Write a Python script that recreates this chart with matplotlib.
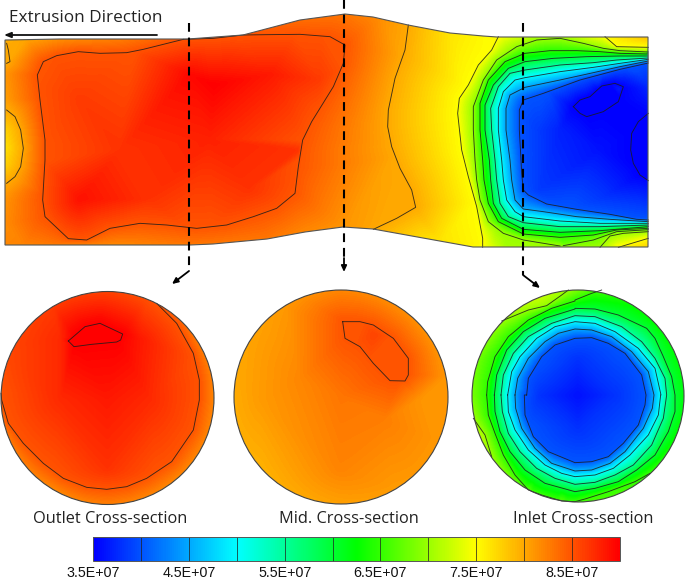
import numpy as np
import matplotlib
matplotlib.use('Agg')
import matplotlib.pyplot as plt
from matplotlib.colors import LinearSegmentedColormap
from matplotlib.patches import Polygon, Circle
from matplotlib.tri import Triangulation, LinearTriInterpolator

# escala de cor (valores em 1E+07)
vmin, vmax = 3.5, 9.0
cbar_ticks = [3.5, 4.5, 5.5, 6.5, 7.5, 8.5]
cbar_labels = ['3.5E+07', '4.5E+07', '5.5E+07', '6.5E+07', '7.5E+07', '8.5E+07']
cbar_edges = [4.0, 4.5, 5.0, 5.5, 6.0, 6.5, 7.0, 7.5, 8.0, 8.5]

# contorno da secao longitudinal (pixels) e valores na borda
top_x = [5, 60, 120, 188, 243, 300, 345, 373, 408, 450, 483, 497, 537, 560, 605, 648]
top_y = [40, 39, 39, 39, 35, 20, 14, 17, 25, 33, 36, 37, 37, 37, 37, 37]
top_v = [7.95, 8.15, 8.25, 8.5, 8.5, 8.35, 8.3, 8.2, 8.0, 7.65, 7.52, 7.5, 7.1, 7.05, 7.5, 7.9]
bot_x = [5, 60, 120, 190, 213, 267, 305, 343, 373, 423, 473, 483, 506, 560, 600, 618, 648]
bot_y = [245, 245, 245, 245, 244, 239, 232, 227, 229, 238, 247, 247, 247, 247, 247, 247, 247]
bot_v = [8.2, 8.3, 8.2, 8.3, 8.3, 8.3, 8.2, 8.12, 8.02, 7.7, 7.55, 7.5, 7.05, 7.0, 7.0, 7.5, 7.75]
left_y = [40, 63, 75, 100, 110, 130, 148, 165, 183, 200, 245]
left_v = [7.95, 8.0, 8.1, 8.05, 8.0, 7.75, 7.65, 7.75, 8.0, 8.12, 8.2]
right_y = [65, 90, 112, 147, 179, 200, 218]
right_v = [3.95, 3.7, 3.52, 3.4, 3.52, 3.75, 3.97]

# pontos internos (x, y, valor)
long_extras = [(215, 85, 9.0), (190, 75, 8.95), (270, 75, 8.85), (80, 200, 8.9), (120, 150, 8.7),
               (300, 150, 8.7), (80, 100, 8.65), (150, 200, 8.7), (250, 190, 8.7), (210, 140, 8.8),
               (320, 80, 8.65), (560, 130, 3.7), (600, 150, 3.6), (620, 90, 3.7), (600, 100, 3.4),
               (590, 110, 3.42), (645, 146, 3.4), (540, 130, 3.85), (540, 190, 3.85), (600, 200, 3.85),
               (640, 75, 3.9), (640, 205, 3.85), (600, 85, 3.7)]

# isolinhas, lidas em recortes 3x: (desloc_x, desloc_y, pontos)
z1 = (0, 0)
z2 = (340, 0)
z6 = (460, 30)
z7 = (460, 160)
z3 = (0, 260)
z4 = (340, 260)
z8 = (465, 285)
z9 = (575, 285)
z10 = (465, 395)
z11 = (575, 395)

loop_85 = [(550, 118), (430, 148), (380, 158), (300, 160), (235, 155), (170, 167), (130, 185), (112, 225),
           (120, 300), (135, 420), (135, 480), (128, 600), (135, 650), (205, 716), (260, 720), (330, 685),
           (420, 670), (500, 675), (590, 685), (680, 675), (760, 650), (830, 625), (885, 580), (895, 500),
           (908, 420), (935, 365), (1000, 260), (1030, 190), (1035, 135), (990, 110), (900, 103), (800, 104),
           (730, 105), (640, 115), (550, 118)]
blob_80 = [(20, 330), (45, 350), (62, 390), (70, 445), (62, 500), (45, 530), (20, 550)]
corner_80 = [(20, 130), (25, 150), (30, 185), (20, 190)]
line_80 = [(205, 75), (195, 150), (165, 235), (145, 330), (143, 380), (155, 440), (180, 505), (215, 570),
           (227, 622), (170, 655), (100, 688)]
line_75 = [(475, 110), (455, 150), (415, 195), (385, 255), (358, 295), (353, 340), (365, 450), (385, 530),
           (410, 620), (428, 715), (428, 742)]
corner_75_top = [(435, 20), (470, 50), (565, 52)]
corner_75_bot = [(475, 262), (565, 235)]
piece_70 = [(420, 262), (450, 228), (490, 220), (565, 215)]
arc_bot = [(310, 257), (400, 240), (470, 215), (565, 209)]
loop_35a = [(700, 320), (720, 300), (750, 290), (785, 258), (825, 250), (850, 260), (835, 305), (790, 335),
            (740, 350), (720, 340), (700, 320)]
loop_35b = [(925, 340), (895, 365), (875, 400), (872, 450), (880, 490), (900, 525), (925, 542)]
line_40 = [(925, 190)]

top_70 = [(40, 300), (40, 230), (70, 150), (110, 90), (170, 50), (230, 30), (300, 25), (370, 40), (430, 55), (480, 62), (565, 66)]
bot_70 = [(45, 0), (50, 60), (60, 120), (85, 185), (130, 220), (190, 240), (300, 258)]
top_65 = [(60, 300), (60, 220), (85, 150), (135, 95), (195, 70), (270, 62), (350, 62), (420, 65), (480, 70), (565, 72)]
bot_65 = [(68, 0), (72, 60), (85, 130), (115, 185), (190, 222), (300, 232), (400, 225), (470, 210), (565, 205)]
top_60 = [(75, 300), (75, 225), (100, 165), (145, 115), (195, 95), (280, 85), (380, 80), (480, 78), (565, 78)]
bot_60 = [(88, 0), (92, 60), (100, 130), (125, 175), (190, 208), (300, 217), (420, 212), (565, 200)]
top_55 = [(95, 300), (92, 235), (115, 170), (150, 130), (195, 120), (300, 105), (400, 98), (470, 90), (565, 84)]
bot_55 = [(105, 0), (110, 60), (120, 130), (145, 170), (190, 188), (300, 200), (420, 200), (565, 195)]
top_50 = [(115, 300), (115, 235), (130, 185), (165, 150), (195, 143), (300, 125), (400, 112), (480, 100), (565, 88)]
bot_50 = [(125, 0), (130, 60), (140, 120), (165, 155), (190, 170), (300, 183), (420, 190), (565, 190)]
top_45 = [(138, 300), (138, 235), (150, 195), (195, 172), (300, 150), (400, 128), (480, 110), (565, 93)]
bot_45 = [(150, 0), (155, 60), (165, 120), (190, 147), (250, 155), (350, 170), (450, 178), (565, 185)]
top_40 = [(178, 300), (178, 240), (190, 210), (250, 190), (360, 150), (480, 118), (565, 99)]
bot_40 = [(183, 0), (185, 40), (190, 90), (205, 105), (260, 132), (350, 148), (450, 163), (530, 178), (565, 180)]

# corte de saida
out_85 = [(470, 130), (530, 190), (580, 280), (598, 360), (598, 420), (580, 510), (515, 605), (440, 655), (380, 680),
          (320, 688), (260, 682), (190, 655), (130, 610), (70, 550), (25, 490), (5, 420), (3, 400)]
out_90 = [(205, 243), (255, 200), (300, 190), (368, 222), (362, 240), (350, 246), (275, 253), (222, 260), (205, 243)]
out_ang = [0, 30, 62, 90, 120, 150, 177, 200, 240, 270, 300, 330, 360]
out_rim = [8.2, 8.25, 8.5, 8.6, 8.65, 8.6, 8.5, 8.3, 8.2, 8.25, 8.2, 8.2, 8.2]
out_extras = [(107, 400, 8.85), (95, 335, 9.05), (60, 400, 8.75), (150, 400, 8.75), (107, 470, 8.7), (140, 340, 8.85), (60, 340, 8.75)]

# corte do meio
mid_85 = [(8, 185), (60, 185), (100, 195), (160, 235), (205, 295), (205, 345), (195, 363), (150, 362), (100, 310), (60, 260), (15, 235), (8, 185)]
mid_ang = [0, 45, 90, 135, 180, 225, 270, 315, 360]
mid_rim = [8.1, 8.15, 8.2, 8.05, 7.98, 7.95, 8.05, 8.1, 8.1]
mid_extras = [(341, 397, 8.3), (300, 380, 8.2), (375, 335, 8.6), (260, 400, 8.08), (420, 400, 8.12), (340, 470, 8.22), (385, 420, 8.25)]

# corte de entrada
in_ang = [0, 30, 60, 77, 95, 112, 135, 160, 180, 192, 203, 215, 240, 270, 290, 313, 340, 360]
in_rim = [6.2, 6.25, 6.3, 6.5, 7.0, 7.25, 7.0, 6.8, 6.85, 7.0, 7.2, 7.0, 6.7, 6.6, 6.6, 6.5, 6.25, 6.2]
in_extras = [(578, 396, 3.6), (540, 396, 3.8), (615, 396, 3.8), (578, 360, 3.8), (578, 430, 3.8)]
in_lens_a = [(110, 108), (190, 75), (245, 62), (290, 30), (310, 15)]
in_lens_b = [(25, 70), (60, 120), (80, 185)]
in65_a = [(65, 330), (68, 290), (90, 215), (130, 155), (190, 105), (260, 70), (330, 48)]
in65_b = [(0, 45), (50, 25), (80, 15)]
in65_c = [(65, 0), (70, 60), (90, 115), (115, 180), (150, 240), (190, 285), (230, 300), (290, 318), (330, 320)]
in65_d = [(30, 312), (100, 290), (180, 260), (225, 235)]
in_rings = {
    6.0: ([(88, 330), (95, 270), (125, 195), (175, 140), (240, 100), (330, 72)],
          [(0, 70), (60, 72), (130, 90), (215, 130), (240, 160), (265, 215), (290, 275), (300, 330)],
          [(0, 290), (60, 280), (130, 260), (185, 225), (240, 180), (280, 110), (300, 50), (300, 0)],
          [(88, 0), (90, 50), (105, 110), (135, 170), (180, 225), (240, 265), (330, 290)]),
    5.5: ([(108, 330), (115, 270), (145, 205), (190, 155), (260, 115), (330, 92)],
          [(0, 92), (60, 95), (140, 125), (200, 170), (240, 220), (270, 280), (275, 330)],
          [(0, 268), (60, 262), (120, 240), (175, 210), (230, 150), (265, 70), (275, 0)],
          [(108, 0), (112, 50), (130, 115), (165, 170), (215, 220), (270, 250), (330, 268)]),
    5.0: ([(128, 330), (140, 260), (165, 215), (215, 160), (270, 125), (330, 110)],
          [(0, 110), (60, 115), (120, 140), (190, 190), (240, 250), (258, 330)],
          [(0, 245), (60, 240), (115, 220), (165, 180), (220, 120), (250, 60), (257, 0)],
          [(128, 0), (130, 50), (150, 105), (190, 165), (240, 210), (290, 235), (330, 245)]),
    4.5: ([(150, 330), (158, 280), (190, 220), (240, 170), (280, 145), (330, 132)],
          [(0, 132), (50, 135), (110, 155), (170, 200), (220, 260), (237, 330)],
          [(0, 228), (50, 225), (105, 205), (150, 170), (205, 100), (232, 40), (237, 0)],
          [(150, 0), (152, 40), (170, 100), (210, 160), (260, 205), (330, 228)]),
    4.0: ([(185, 330), (190, 280), (230, 215), (270, 180), (330, 160)],
          [(0, 160), (50, 158), (100, 175), (150, 205), (200, 270), (213, 330)],
          [(0, 203), (50, 200), (100, 185), (145, 145), (190, 90), (210, 30), (213, 0)],
          [(178, 0), (180, 60), (205, 125), (250, 170), (330, 203)]),
}

# geometria dos circulos
out_c = (107.5, 398, 106.5)
mid_c = (341, 397, 107)
in_c = (578, 396, 106)

cmap = LinearSegmentedColormap.from_list('tensao', [
    (0.0, (0, 0, 1)),
    ((5.0 - vmin) / (vmax - vmin), (0, 1, 1)),
    ((6.25 - vmin) / (vmax - vmin), (0, 1, 0)),
    ((7.5 - vmin) / (vmax - vmin), (1, 1, 0)),
    (1.0, (1, 0, 0))])


def zp(off, pts):
    return np.array(pts, dtype=float) / 3 + off


def rev(pts):
    return list(reversed(pts))


def adensar(x, y, v, passo=2.5):
    x, y = np.asarray(x, float), np.asarray(y, float)
    v = np.broadcast_to(np.asarray(v, float), x.shape)
    s = np.r_[0, np.cumsum(np.hypot(np.diff(x), np.diff(y)))]
    t = np.linspace(0, s[-1], int(s[-1] / passo) + 2)
    return np.interp(t, s, x), np.interp(t, s, y), np.interp(t, s, v)


def desenhar_campo(ax, linhas, bordas, extras, box, clip):
    px, py, pv = [], [], []
    for nivel, pts in linhas:
        a, b, c = adensar(pts[:, 0], pts[:, 1], nivel)
        px.append(a)
        py.append(b)
        pv.append(c)
    for bx, by, bv in bordas:
        a, b, c = adensar(bx, by, bv)
        px.append(a)
        py.append(b)
        pv.append(c)
    ex = np.array(extras, dtype=float)
    px.append(ex[:, 0])
    py.append(ex[:, 1])
    pv.append(ex[:, 2])
    px, py, pv = np.concatenate(px), np.concatenate(py), np.concatenate(pv)

    x0, x1, y0, y1 = box
    media = pv.mean()
    px = np.r_[px, x0 - 5, x1 + 5, x0 - 5, x1 + 5]
    py = np.r_[py, y0 - 5, y0 - 5, y1 + 5, y1 + 5]
    pv = np.r_[pv, media, media, media, media]

    _, idx = np.unique(np.c_[np.round(px, 1), np.round(py, 1)], axis=0, return_index=True)
    tri = Triangulation(px[idx], py[idx])
    interp = LinearTriInterpolator(tri, pv[idx])
    gx, gy = np.meshgrid(np.arange(x0, x1 + 1.0), np.arange(y0, y1 + 1.0))
    z = interp(gx, gy).filled(media)

    # suaviza as facetas dos triangulos
    k = np.array([1, 3, 5, 3, 1], dtype=float)
    k /= k.sum()
    z = np.pad(z, 2, mode='edge')
    z = np.apply_along_axis(lambda m: np.convolve(m, k, mode='same'), 0, z)
    z = np.apply_along_axis(lambda m: np.convolve(m, k, mode='same'), 1, z)[2:-2, 2:-2]

    im = ax.imshow(z, extent=(x0 - .5, x1 + .5, y1 + .5, y0 - .5), cmap=cmap, vmin=vmin, vmax=vmax,
                   interpolation='bilinear', aspect='auto', zorder=1)
    im.set_clip_path(clip)


def riscar(ax, linhas):
    for _, pts in linhas:
        ax.plot(pts[:, 0], pts[:, 1], color='#1c1c1c', lw=0.65, alpha=0.85, zorder=2, solid_joinstyle='round')


def borda_circulo(c, ang, val):
    a = np.linspace(0, 360, 145)
    v = np.interp(a, ang, val)
    x = c[0] + c[2] * np.cos(np.radians(a))
    y = c[1] - c[2] * np.sin(np.radians(a))
    return x, y, v


fig = plt.figure(figsize=(6.85, 5.8), dpi=100)
ax = fig.add_axes([0, 0, 1, 1])

# secao longitudinal
linhas_long = [
    (8.5, zp(z1, loop_85)), (8.0, zp(z1, blob_80)), (8.0, zp(z1, corner_80)), (8.0, zp(z2, line_80)),
    (7.5, zp(z2, line_75)), (7.5, zp(z6, corner_75_top)), (7.5, zp(z7, corner_75_bot)),
    (7.0, zp(z7, piece_70)), (6.8, zp(z7, arc_bot)),
    (3.5, zp(z2, loop_35a)), (3.5, zp(z2, loop_35b)),
]
pares = [(7.0, top_70, bot_70), (6.5, top_65, bot_65), (6.0, top_60, bot_60), (5.5, top_55, bot_55),
         (5.0, top_50, bot_50), (4.5, top_45, bot_45), (4.0, top_40, bot_40)]
for nivel, topo, base in pares:
    linhas_long.append((nivel, np.vstack([zp(z6, rev(topo)), zp(z7, base)])))

outline = np.vstack([np.c_[top_x, top_y], np.c_[bot_x, bot_y][::-1]])
clip_long = Polygon(outline, closed=True, transform=ax.transData)
bordas_long = [(top_x, top_y, top_v), (bot_x, bot_y, bot_v),
               ([5] * len(left_y), left_y, left_v), ([648] * len(right_y), right_y, right_v)]
desenhar_campo(ax, linhas_long, bordas_long, long_extras, (3, 650, 10, 250), clip_long)
riscar(ax, linhas_long)
ax.add_patch(Polygon(outline, closed=True, fill=False, ec='#555555', lw=0.8, zorder=3))

# cortes transversais
linhas_out = [(8.5, zp(z3, out_85)), (9.0, zp(z3, out_90))]
linhas_mid = [(8.5, zp(z4, mid_85))]
linhas_in = [(7.0, zp(z8, in_lens_a)), (7.0, zp(z10, in_lens_b)),
             (6.5, np.vstack([zp(z8, in65_a), zp(z9, in65_b)])),
             (6.5, np.vstack([zp(z10, in65_c), zp(z11, in65_d)]))]
for nivel, (a, b, c, d) in in_rings.items():
    anel = np.vstack([zp(z8, a), zp(z9, b), zp(z11, rev(c)), zp(z10, rev(d)), zp(z8, a[:1])])
    linhas_in.append((nivel, anel))

for c, linhas, ang, rim, extras in [(out_c, linhas_out, out_ang, out_rim, out_extras),
                                    (mid_c, linhas_mid, mid_ang, mid_rim, mid_extras),
                                    (in_c, linhas_in, in_ang, in_rim, in_extras)]:
    clip = Circle(c[:2], c[2], transform=ax.transData)
    box = (int(c[0] - c[2]) - 2, int(c[0] + c[2]) + 2, int(c[1] - c[2]) - 2, int(c[1] + c[2]) + 2)
    desenhar_campo(ax, linhas, [borda_circulo(c, ang, rim)], extras, box, clip)
    riscar(ax, linhas)
    ax.add_patch(Circle(c[:2], c[2], fill=False, ec='#444444', lw=0.8, zorder=3))

# linhas de corte tracejadas e setas
for x, y0, y1, alvo in [(189, 23, 271, (172, 284)), (344, 0, 258, (344, 272)), (523, 23, 275, (540, 288))]:
    ax.plot([x, x], [y0, y1], color='black', lw=1.5, ls=(0, (4.2, 2.8)), zorder=5)
    ax.annotate('', xy=alvo, xytext=(x, y1),
                arrowprops=dict(arrowstyle='-|>,head_width=0.16,head_length=0.35', color='black', lw=1.3,
                                shrinkA=0, shrinkB=0), zorder=5)

ax.annotate('', xy=(4, 35), xytext=(157, 35),
            arrowprops=dict(arrowstyle='-|>,head_width=0.16,head_length=0.4', color='#111111', lw=1.3,
                            shrinkA=0, shrinkB=0))
ax.text(9, 18, 'Extrusion Direction', fontsize=12.3, family='Open Sans', color='#222222', va='center', ha='left')

# legendas dos cortes
for x, txt in [(110, 'Outlet Cross-section'), (349, 'Mid. Cross-section'), (583, 'Inlet Cross-section')]:
    ax.text(x, 519, txt, fontsize=11.8, family='Open Sans', color='#222222', ha='center', va='center')

# barra de cor
bar_x0, bar_x1, bar_y0, bar_y1 = 93, 620, 537, 561


def xbar(v):
    return bar_x0 + (v - vmin) / (vmax - vmin) * (bar_x1 - bar_x0)


grad = np.linspace(vmin, vmax, 528).reshape(1, -1)
ax.imshow(grad, extent=(bar_x0, bar_x1, bar_y1, bar_y0), cmap=cmap, vmin=vmin, vmax=vmax, aspect='auto', zorder=1)
for v in cbar_edges:
    ax.plot([xbar(v), xbar(v)], [bar_y0, bar_y1], color='#222222', lw=0.7, alpha=0.75, zorder=2)
ax.add_patch(plt.Rectangle((bar_x0, bar_y0), bar_x1 - bar_x0, bar_y1 - bar_y0, fill=False, ec='#555555', lw=0.7, zorder=3))
for v, lab in zip(cbar_ticks, cbar_labels):
    ax.text(xbar(v), 573, lab, fontsize=10.3, family='Liberation Sans', color='#111111', ha='center', va='center')

ax.set_xlim(0, 685)
ax.set_ylim(580, 0)
ax.axis('off')
fig.savefig('out.png', dpi=100)
